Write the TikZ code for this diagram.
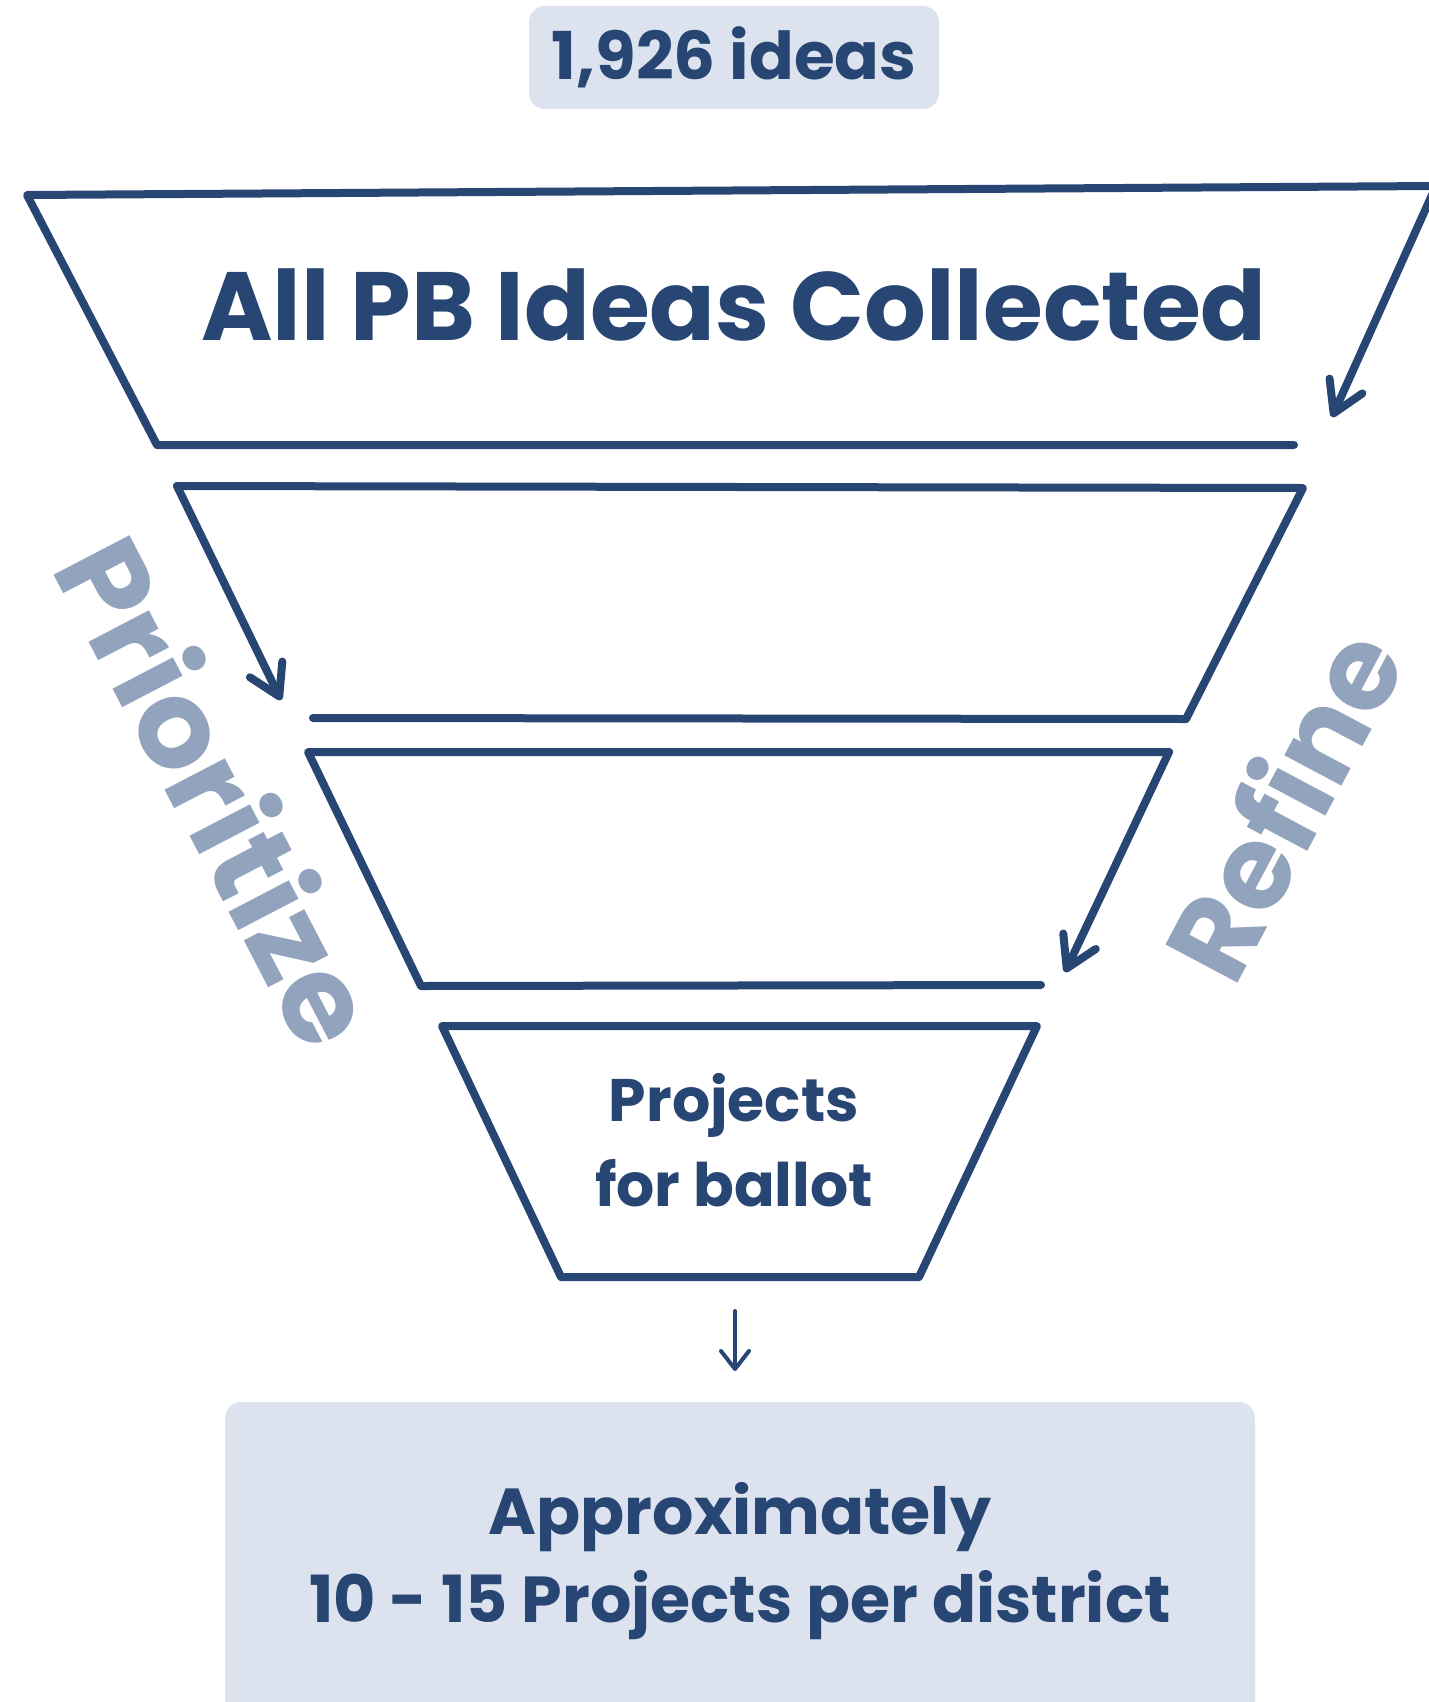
\documentclass[tikz,border=0pt]{standalone}
\usepackage{fontspec}
\setmainfont{Poppins}
\usetikzlibrary{arrows.meta}
\usepackage{xcolor}
\definecolor{navy}{HTML}{284673}
\definecolor{paleblue}{HTML}{DDE3EE}
\definecolor{greyblue}{HTML}{91A3BD}

\begin{document}
\begin{tikzpicture}[x=0.5pt,y=-0.5pt,
    funnel/.style={draw=navy,line width=4pt,line cap=round,line join=round},
    flow/.style={funnel,-{Straight Barb[length=15pt,width=18pt,round]}}]
    \useasboundingbox (0,0) rectangle (1429,1702);
    \clip (0,0) rectangle (1429,1702);
    \fill[white] (0,0) rectangle (1429,1702);

    \begin{scope}[every node/.style={text=navy,align=center}]
      \node[fill=paleblue,rounded corners=8pt,minimum width=205pt,minimum height=51.5pt,
        font=\bfseries\fontsize{33}{40}\selectfont] (ideas) at (734,57.5) {1,926 ideas};
      \node[anchor=base,font=\bfseries\fontsize{48.5}{58}\selectfont] (collected) at (734,340)
        {All PB Ideas Collected};
      \node[font=\bfseries\fontsize{30}{42.5}\selectfont] (ballot) at (734,1140)
        {Projects\\for ballot};
      \node[fill=paleblue,rounded corners=8pt,minimum width=515pt,minimum height=159pt,
        font=\bfseries\fontsize{32.5}{44}\selectfont] (district) at (740,1561)
        {Approximately\\10 - 15 Projects per district};
    \end{scope}

    \begin{scope}[every node/.style={text=greyblue,anchor=base west,inner sep=0pt}]
      \node[rotate=-62.5,font=\bfseries\fontsize{61}{70}\selectfont] (prioritize) at (50,568) {Prioritize};
      \node[rotate=62,font=\bfseries\fontsize{58}{66}\selectfont] (refine) at (1234,990) {Refine};
    \end{scope}

    \coordinate (t1tl) at (27,195);
    \coordinate (t1tr) at (1436,186);
    \coordinate (t1bl) at (157,445);
    \coordinate (t1br) at (1294,445);
    \coordinate (t1tip) at (1332,417);
    \coordinate (t2tl) at (177,486);
    \coordinate (t2tr) at (1303,488);
    \coordinate (t2bl) at (313,718);
    \coordinate (t2br) at (1186,719);
    \coordinate (t2tip) at (281,700);
    \coordinate (t3tl) at (308,752);
    \coordinate (t3tr) at (1169,752);
    \coordinate (t3bl) at (421,986);
    \coordinate (t3br) at (1041,985);
    \coordinate (t3tip) at (1065,972);
    \coordinate (t4tl) at (442,1026);
    \coordinate (t4tr) at (1037,1026);
    \coordinate (t4bl) at (561,1277);
    \coordinate (t4br) at (919,1277);
    \coordinate (down) at (735,1311);
    \coordinate (downtip) at (735,1371);

    \draw[funnel] (t1br) -- (t1bl) -- (t1tl) -- (t1tr);
    \draw[flow] (t1tr) -- (t1tip);
    \draw[funnel] (t2bl) -- (t2br) -- (t2tr) -- (t2tl);
    \draw[flow] (t2tl) -- (t2tip);
    \draw[funnel] (t3br) -- (t3bl) -- (t3tl) -- (t3tr);
    \draw[flow] (t3tr) -- (t3tip);
    \draw[funnel] (t4tl) -- (t4tr) -- (t4br) -- (t4bl) -- cycle;
    \draw[funnel,line width=2pt,-{Straight Barb[length=9pt,width=14pt,round]}] (down) -- (downtip);
  \end{tikzpicture}
\end{document}
